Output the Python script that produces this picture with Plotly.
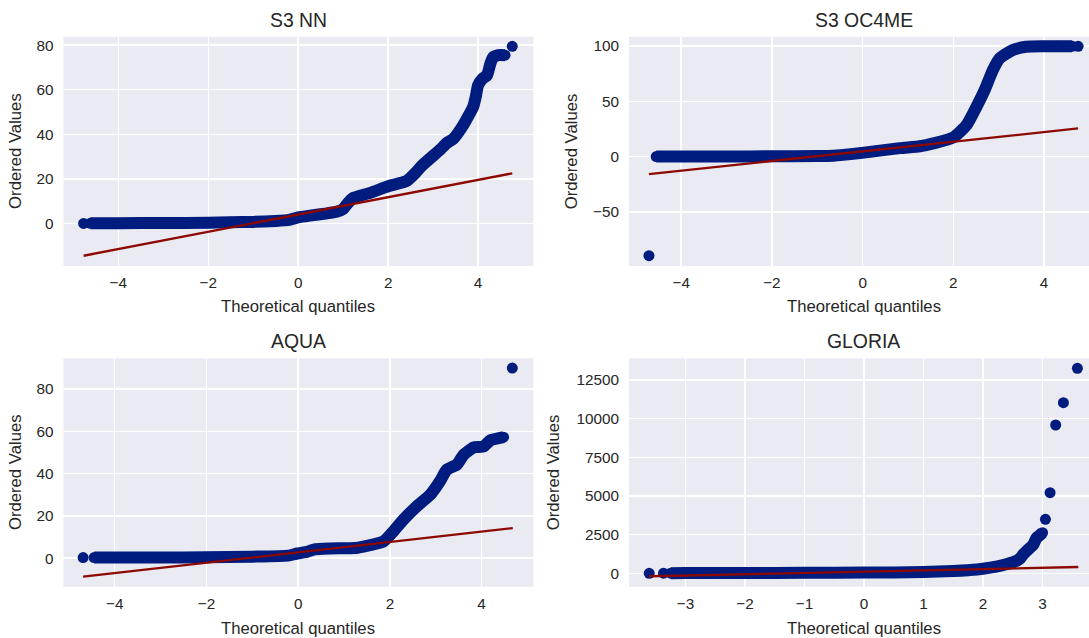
import plotly.graph_objects as go

# ---------------- data ----------------
titles = ["S3 NN", "S3 OC4ME", "AQUA", "GLORIA"]

# S3 NN
nn_band_q = [-4.62, -4.0, -3.0, -2.0, -1.5, -1.0, -0.5, -0.2, 0.0, 0.3, 0.6, 0.85, 1.0, 1.1,
             1.23, 1.6, 2.0, 2.41, 2.6, 2.75, 3.15, 3.3, 3.45, 3.67, 3.89, 3.95, 4.0, 4.1,
             4.2, 4.27, 4.33, 4.45, 4.6]
nn_band_v = [0.05, 0.1, 0.2, 0.3, 0.5, 0.7, 1.1, 1.6, 2.7, 3.6, 4.4, 5.2, 6.5, 9.0,
             11.5, 13.7, 16.7, 19.0, 22.5, 25.9, 33.0, 36.0, 38.0, 44.1, 52.3, 57.0, 62.0, 65.0,
             66.5, 71.5, 74.5, 75.5, 75.5]
nn_iso_q = [-4.77, 4.76]
nn_iso_v = [0.0, 79.5]
nn_fit_q = [-4.77, 4.76]
nn_fit_v = [-14.5, 22.5]

# S3 OC4ME
oc_band_q = [-4.55, -4.0, -3.0, -2.0, -1.0, -0.65, -0.06, 0.82, 1.26, 1.56, 2.0, 2.29, 2.51,
             2.69, 2.87, 3.02, 3.31, 3.6, 4.0, 4.3, 4.62]
oc_band_v = [0.2, 0.2, 0.3, 0.4, 0.6, 0.9, 3.3, 7.8, 9.5, 12.1, 17.5, 28.6, 45.2,
             60.3, 78.3, 88.9, 96.4, 99.4, 99.8, 99.8, 99.8]
oc_iso_q = [-4.71, 4.75]
oc_iso_v = [-89.4, 99.8]
oc_fit_q = [-4.71, 4.75]
oc_fit_v = [-15.6, 25.6]

# AQUA
aq_band_q = [-4.45, -4.0, -3.0, -2.04, -1.0, -0.22, -0.02, 0.2, 0.36, 0.69, 1.24, 1.42, 1.86,
             2.04, 2.29, 2.58, 2.88, 3.09, 3.24, 3.46, 3.61, 3.83, 4.04, 4.19, 4.48]
aq_band_v = [0.3, 0.3, 0.3, 0.4, 0.7, 1.2, 2.2, 3.0, 4.2, 4.6, 4.8, 5.5, 7.9,
             11.8, 18.1, 24.4, 30.0, 36.3, 41.8, 44.2, 48.9, 52.4, 52.8, 55.7, 57.2]
aq_iso_q = [-4.69, 4.67]
aq_iso_v = [0.3, 89.9]
aq_fit_q = [-4.69, 4.68]
aq_fit_v = [-8.7, 14.2]

# GLORIA
gl_band_q = [-3.25, -3.0, -2.0, -1.0, 0.0, 1.0, 1.5, 1.9, 2.12, 2.3, 2.51, 2.62, 2.68,
             2.76, 2.84, 2.9, 2.95, 3.0]
gl_band_v = [10, 15, 20, 30, 45, 80, 150, 250, 370, 500, 720, 950, 1250,
             1550, 1830, 2300, 2450, 2625]
gl_iso_q = [-3.61, -3.37, 3.048, 3.126, 3.22, 3.35, 3.585]
gl_iso_v = [0, 10, 3491, 5212, 9589, 11031, 13255]
gl_fit_q = [-3.61, 3.6]
gl_fit_v = [-190, 410]

panels = [
    (nn_band_q, nn_band_v, nn_iso_q, nn_iso_v, nn_fit_q, nn_fit_v),
    (oc_band_q, oc_band_v, oc_iso_q, oc_iso_v, oc_fit_q, oc_fit_v),
    (aq_band_q, aq_band_v, aq_iso_q, aq_iso_v, aq_fit_q, aq_fit_v),
    (gl_band_q, gl_band_v, gl_iso_q, gl_iso_v, gl_fit_q, gl_fit_v),
]

# ---------------- styling / layout ----------------
W, H = 1089, 638
FONT = "Liberation Sans, Arial, Helvetica, sans-serif"
TXT = "#262626"
BLUE = "#001c7f"
RED = "#8c0800"
BG = "#eaeaf2"

xdom = [[63.4 / W, 533.4 / W], [629 / W, 1.0], [63.4 / W, 533.4 / W], [629 / W, 1.0]]
ydom = [[1 - 266 / H, 1 - 36.7 / H], [1 - 266 / H, 1 - 36.7 / H],
        [1 - 586.7 / H, 1 - 358.3 / H], [1 - 586.7 / H, 1 - 358.3 / H]]
xr = [[-5.22, 5.23], [-5.15, 4.99], [-5.12, 5.13], [-3.95, 3.78]]
yr = [[-19.1, 83.8], [-98.7, 108.5], [-13.5, 94.5], [-865, 13900]]
xt = [[-4, -2, 0, 2, 4]] * 3 + [[-3, -2, -1, 0, 1, 2, 3]]
yt = [[0, 20, 40, 60, 80], [-50, 0, 50, 100], [0, 20, 40, 60, 80],
      [0, 2500, 5000, 7500, 10000, 12500]]

fig = go.Figure()
layout = dict(template="none", width=W, height=H,
              margin=dict(l=0, r=0, t=0, b=0, pad=0, autoexpand=False),
              paper_bgcolor="white", plot_bgcolor=BG, showlegend=False,
              font=dict(family=FONT, color=TXT, size=15.3))

for i, (bq, bv, iq, iv, fq, fv) in enumerate(panels):
    n = "" if i == 0 else str(i + 1)
    xa, ya = "x" + n, "y" + n
    fig.add_trace(go.Scatter(x=bq, y=bv, mode="lines+markers", xaxis=xa, yaxis=ya,
                             line=dict(color=BLUE, width=12, shape="spline", smoothing=0.5),
                             marker=dict(color=BLUE, size=11, line=dict(width=0)),
                             hoverinfo="skip"))
    fig.add_trace(go.Scatter(x=iq, y=iv, mode="markers", xaxis=xa, yaxis=ya,
                             marker=dict(color=BLUE, size=11, line=dict(width=0)),
                             hoverinfo="skip"))
    fig.add_trace(go.Scatter(x=fq, y=fv, mode="lines", xaxis=xa, yaxis=ya,
                             line=dict(color=RED, width=2.3), hoverinfo="skip"))
    common = dict(showgrid=True, gridcolor="white", gridwidth=1.4, zeroline=False,
                  showline=False, ticks="", automargin=False, tickformat="d",
                  tickfont=dict(size=15.3, color=TXT, family=FONT))
    layout["xaxis" + n] = dict(domain=xdom[i], range=xr[i], anchor=ya, tickvals=xt[i],
                               ticklabelstandoff=6, **common)
    layout["yaxis" + n] = dict(domain=ydom[i], range=yr[i], anchor=xa, tickvals=yt[i],
                               ticklabelstandoff=9, **common)

fig.update_layout(**layout)

# titles and axis labels
cx = [298.3 / W, 863.5 / W, 298.3 / W, 863.5 / W]
ty = [1 - 20 / H, 1 - 20 / H, 1 - 340.7 / H, 1 - 340.7 / H]
xly = [1 - 306.7 / H, 1 - 306.7 / H, 1 - 628.3 / H, 1 - 628.3 / H]
ylx = [15.6 / W, 571 / W, 15.6 / W, 553.7 / W]
yly = [1 - 151.3 / H, 1 - 151.3 / H, 1 - 472.5 / H, 1 - 472.5 / H]
for i in range(4):
    fig.add_annotation(text=titles[i], x=cx[i], y=ty[i], xref="paper", yref="paper",
                       showarrow=False, xanchor="center", yanchor="middle",
                       font=dict(size=19.4, color=TXT, family=FONT))
    fig.add_annotation(text="Theoretical quantiles", x=cx[i], y=xly[i], xref="paper",
                       yref="paper", showarrow=False, xanchor="center", yanchor="middle",
                       font=dict(size=16.7, color=TXT, family=FONT))
    fig.add_annotation(text="Ordered Values", x=ylx[i], y=yly[i], xref="paper",
                       yref="paper", showarrow=False, xanchor="center", yanchor="middle",
                       textangle=-90, font=dict(size=16.7, color=TXT, family=FONT))

fig.write_html("out.html", config={"displayModeBar": False, "staticPlot": True},
               post_script="document.body.style.margin='0';document.body.style.overflow='hidden';")
